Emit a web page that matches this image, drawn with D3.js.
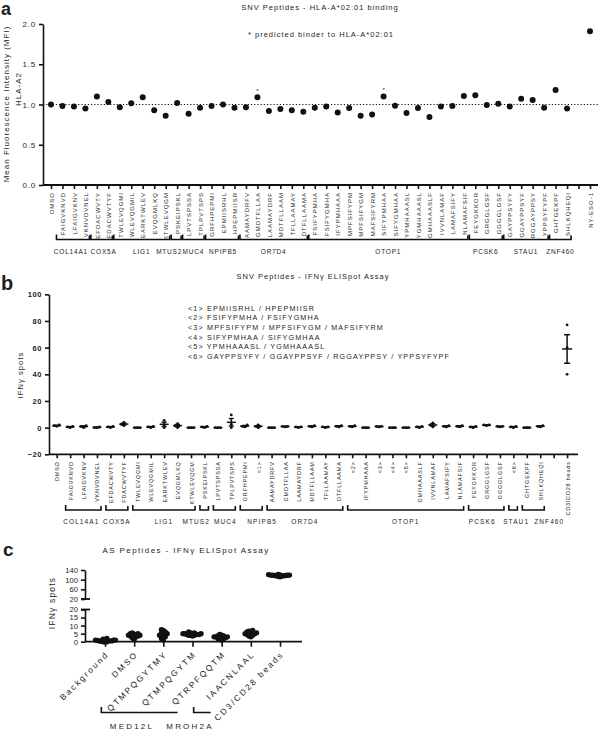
<!DOCTYPE html>
<html><head><meta charset="utf-8">
<script src="https://cdn.jsdelivr.net/npm/d3@7/dist/d3.min.js"></script>
<style>
body{margin:0;background:#fff}
text{font-family:"Liberation Sans",Arial,sans-serif;fill:#1e1e1e}
</style>
</head><body>
<svg id="chart" width="600" height="729"></svg>
<script>
// ---------------- DATA ----------------
// Panel a: HLA-A*02:01 binding (MFI), "" = empty slot on axis
const aCategories = ["DMSO","FAIGVKNVD","LFAIGVKNV","VKNVDVNEL","EFDACWVTY","FDACWVTYF","TWLEVQGMI","WLEVQGMIL","EARKTWLEV","EVQGMLKQ","KTWLEVQGM","PSKEIPSKL","LPVTSPSSA","TPLPVTSPS","GRFHPEPMI","EPMIISRHL","HPEPMIISR","AAMAYDRFV","GMDTFLLAA","LAAMAYDRF","MDTFLLAAM","TFLLAAMAY","DTFLLAAMA","FSIFYPMHA","FSIFYGMHA","IFYPMHAAA","MPFSIFYPM","MPFSIFYGM","MAFSIFYRM","SIFYPMHAA","SIFYGMHAA","YPMHAAASL","YGMHAAASL","GMHAAASLF","IVVNLAMAF","LAMAFSIFY","NLAMAFSIF","FEYGKKOR","GRGGLGSF","GGGGLGSF","GAYPPSYFY","GGAYPPSYF","RGGAYPPSY","YPPSYFYPF","GHTGEKPF","SHLKQHEQI","","NY-ESO-1"];
const aValues = [1.00,0.98,0.975,0.95,1.10,1.03,0.965,1.015,1.09,0.93,0.86,1.02,0.885,0.96,0.98,1.00,0.96,0.965,1.09,0.92,0.945,0.93,0.91,0.96,0.975,0.90,0.955,0.86,0.875,1.10,0.985,0.895,0.955,0.845,0.975,0.98,1.105,1.115,0.995,1.01,0.975,1.07,1.055,0.96,1.18,0.95,null,1.91];
const aPredictedBinders = ["GMDTFLLAA","SIFYPMHAA"];
const aYTicks = [0,0.5,1.0,1.5,2.0];
const aRefLine = 1.0;
const aGeneNames = ["COL14A1","COX5A","LIG1","MTUS2","MUC4","NPIPB5","OR7D4","OTOP1","PCSK6","STAU1","ZNF460"];
const aGeneFirst = ["FAIGVKNVD","EFDACWVTY","TWLEVQGMI","PSKEIPSKL","LPVTSPSSA","GRFHPEPMI","AAMAYDRFV","FSIFYPMHA","FEYGKKOR","GAYPPSYFY","GHTGEKPF"];
const aGeneLast  = ["VKNVDVNEL","FDACWVTYF","KTWLEVQGM","PSKEIPSKL","TPLPVTSPS","HPEPMIISR","DTFLLAAMA","NLAMAFSIF","GGGGLGSF","YPPSYFYPF","SHLKQHEQI"];

// Panel b: IFNγ ELISpot (spots), three replicates per peptide
const bCategories = ["DMSO","FAIGVKNVD","LFAIGVKNV","VKNVDVNEL","EFDACWVTY","FDACWVTYF","TWLEVQGMI","WLEVQGMIL","EARKTWLEV","EVQGMLKQ","KTWLEVQGM","PSKEIPSKL","LPVTSPSSA","TPLPVTSPS","GRFHPEPMI","<1>","AAMAYDRFV","GMDTFLLAA","LAAMAYDRF","MDTFLLAAM","TFLLAAMAY","DTFLLAAMA","<2>","IFYPMHAAA","<3>","<4>","<5>","GMHAAASLF","IVVNLAMAF","LAMAFSIFY","NLAMAFSIF","FEYGKKOR","GRGGLGSF","GGGGLGSF","<6>","GHTGEKPF","SHLKQHEQI","","CD3/CD28 beads"];
const bReplicates = [[1,1.5,2],[0,0.5,1],[0,1,1.5],[0,0,0.5],[0,0.5,1],[1.5,2.5,4],[0,0,0],[0,0.5,1],[0,2,5.5],[0,1.5,3],[0,0,0],[0,0.5,1],[0,0,0],[0,2.5,9.5],[0.5,1,2],[0,1,2],[0,0,0],[0.5,1,1],[0,0.5,0.5],[0.5,1,1.5],[0,0.5,0.5],[0.5,1,1.5],[0.5,1,1.5],[0,0,0],[0.5,1,1],[0,0,0],[0,0,0],[0,0.5,1],[0.5,2,3.5],[0.5,1,1.5],[0.5,1,1.5],[0,0.5,1],[1.5,2,2],[0.5,1,1],[0,0.5,1],[0,0,0],[0.5,1,1.5],[],[40,60,77]];
const bYTicks = [-20,0,20,40,60,80,100];
const bLegend = ["<1> EPMIISRHL / HPEPMIISR","<2> FSIFYPMHA / FSIFYGMHA","<3> MPFSIFYPM / MPFSIFYGM / MAFSIFYRM","<4> SIFYPMHAA / SIFYGMHAA","<5> YPMHAAASL / YGMHAAASL","<6> GAYPPSYFY / GGAYPPSYF / RGGAYPPSY / YPPSYFYPF"];
const bGeneNames = ["COL14A1","COX5A","LIG1","MTUS2","MUC4","NPIPB5","OR7D4","OTOP1","PCSK6","STAU1","ZNF460"];
const bGeneFirst = ["FAIGVKNVD","EFDACWVTY","TWLEVQGMI","PSKEIPSKL","LPVTSPSSA","GRFHPEPMI","AAMAYDRFV","<2>","FEYGKKOR","<6>","GHTGEKPF"];
const bGeneLast  = ["VKNVDVNEL","FDACWVTYF","KTWLEVQGM","PSKEIPSKL","TPLPVTSPS","<1>","DTFLLAAMA","NLAMAFSIF","GGGGLGSF","<6>","SHLKQHEQI"];

// Panel c: AS peptides IFNγ ELISpot (spots)
const cCategories = ["Background","DMSO","QTMPQGYTMY","QTMPQGYTM","QTRPFQQTM","IAACNLAAL","CD3/CD28 beads"];
const cReplicates = [
  [0,0,0,0.3,0.5,0.5,0.8,1,1,1,1.2,1.5,2,0.5],
  [1.5,2.5,3,3.5,3.5,4,4,4,4.5,4.5,5,5,5.5,3],
  [1,2,2.5,3,3.5,4,4,4.5,5,5,5.5,6,7,7.5],
  [3.5,4,4,4.5,4.5,5,5,5,5.5,5.5,6,4.5,5,4],
  [1,1.5,2,2.5,2.5,3,3,3,3.5,3.5,4,4.5,2,3],
  [3,3.5,4,4.5,5,5,5,5.5,5.5,6,6,6.5,7,4.5],
  [112,114,115,116,117,117,118,118,119,120,121,122,116,119]
];
const cYTicksLow = [0,5,10,15,20];
const cYTicksHigh = [20,60,100,140];
const cGeneNames = ["MED12L","MROH2A"];
const cGeneFirst = ["QTMPQGYTMY","QTRPFQQTM"];
const cGeneLast  = ["QTMPQGYTM","QTRPFQQTM"];

// ---------------- HELPERS ----------------
const svg = d3.select("#chart");
const INK = "#111";
function label(x, y, txt, size, opts = {}) {
  return svg.append("text").attr("x", x).attr("y", y).text(txt)
    .style("font-size", size + "px")
    .style("letter-spacing", (opts.ls || 0) + "px")
    .style("font-weight", opts.bold ? "bold" : "normal")
    .attr("text-anchor", opts.anchor || "start");
}
function vlabel(x, y, txt, size, ls) {
  return svg.append("text").attr("transform", `translate(${x},${y}) rotate(-90)`)
    .attr("text-anchor", "middle").text(txt)
    .style("font-size", size + "px").style("letter-spacing", ls + "px");
}
function styleAxis(g, size, ls) {
  g.selectAll("path,line").attr("stroke", INK).attr("stroke-width", 1.6);
  g.selectAll("text").attr("font-family", null).attr("fill", null)
    .style("fill", "#1e1e1e")
    .style("font-size", size + "px").style("letter-spacing", ls + "px");
}
function swarm(vals, yOf, r, minD) {
  const placed = [];
  return vals.slice().sort((a, b) => a - b).map(v => {
    const y = yOf(v);
    let dx = 0;
    for (let k = 0; k < 80; k++) {
      const cand = k === 0 ? 0 : (k % 2 ? -1 : 1) * Math.ceil(k / 2) * minD * 0.5;
      if (placed.every(p => Math.hypot(p.dx - cand, p.y - y) >= minD)) { dx = cand; break; }
    }
    placed.push({ dx, y });
    return { v, dx, y };
  });
}
function brackets(names, firsts, lasts, xs, yLine, yText, padL, padR, size, ls, shifts) {
  names.forEach((n, i) => {
    const x0 = xs(firsts[i]) - padL, x1 = xs(lasts[i]) + padR;
    svg.append("path").attr("d", `M${x0},${yLine - 5}V${yLine}H${x1}V${yLine - 4}`)
      .attr("fill", "none").attr("stroke", INK).attr("stroke-width", 1.6);
    label((x0 + x1) / 2 + (shifts[i] || 0), yText, n, size, { ls, anchor: "middle" });
  });
}

// ---------------- PANEL A ----------------
label(1, 15, "a", 18, { bold: true });
label(320, 10, "SNV Peptides - HLA-A*02:01 binding", 7.5, { ls: 1, anchor: "middle" });
label(321, 37, "* predicted binder to HLA-A*02:01", 7.5, { ls: 1, anchor: "middle" });
vlabel(9, 104, "Mean Fluorescence Intensity (MFI)", 8, 1);
vlabel(21, 89, "HLA-A2", 8, 1);

const ax = d3.scalePoint().domain(aCategories).range([51, 590]);
const ay = d3.scaleLinear().domain([0, 2]).range([185, 24]);
const gay = svg.append("g").attr("transform", "translate(43,0)")
  .call(d3.axisLeft(ay).tickValues(aYTicks).tickFormat(d3.format(".1f")).tickSize(4).tickSizeOuter(0));
styleAxis(gay, 8, 0.8);
const gax = svg.append("g").attr("transform", "translate(0,185)")
  .call(d3.axisBottom(ax).tickSize(4).tickSizeOuter(0));
gax.select(".domain").remove();
styleAxis(gax, 6, 1);
gax.selectAll("text").attr("y", null).attr("dy", null)
  .attr("transform", "translate(2.2,7) rotate(-90)").attr("text-anchor", "end");
svg.append("line").attr("x1", 43).attr("x2", 598).attr("y1", 185).attr("y2", 185)
  .attr("stroke", INK).attr("stroke-width", 1.8);
svg.append("line").attr("x1", 43).attr("x2", 598).attr("y1", ay(aRefLine)).attr("y2", ay(aRefLine))
  .attr("stroke", INK).attr("stroke-width", 1).attr("stroke-dasharray", "1.2,2");
aCategories.forEach((c, i) => {
  if (aValues[i] == null) return;
  svg.append("circle").attr("cx", ax(c)).attr("cy", ay(aValues[i])).attr("r", 3).attr("fill", INK);
  if (aPredictedBinders.includes(c))
    label(ax(c), ay(aValues[i]) - 4.5, "*", 6, { anchor: "middle" });
});
brackets(aGeneNames, aGeneFirst, aGeneLast, ax, 239.5, 253.5, 6, 4, 6.5, 0.8,
  [-2, 2, 0, -7, 0, 1, 0, 0, 0, 0, 0]);

// ---------------- PANEL B ----------------
label(1, 290, "b", 20, { bold: true });
label(313, 279, "SNV Peptides - IFNγ ELISpot Assay", 7.5, { ls: 1, anchor: "middle" });
vlabel(23, 375, "IFNγ spots", 7.5, 1.1);
bLegend.forEach((t, i) => label(188, 310.5 + i * 9.7, t, 7.2, { ls: 1.15 }));

const bx = d3.scalePoint().domain(bCategories).range([56.7, 567.1]);
const by = d3.scaleLinear().domain([-20, 100]).range([454.3, 294.3]);
const gby = svg.append("g").attr("transform", "translate(49,0)")
  .call(d3.axisLeft(by).tickValues(bYTicks).tickSize(4).tickSizeOuter(0));
styleAxis(gby, 7.5, 0.6);
gby.selectAll("text").style("font-weight", "bold");
const gbx = svg.append("g").attr("transform", "translate(0,454.3)")
  .call(d3.axisBottom(bx).tickSize(4).tickSizeOuter(0));
gbx.select(".domain").remove();
styleAxis(gbx, 5.5, 0.8);
gbx.selectAll("text").attr("y", null).attr("dy", null)
  .attr("transform", "translate(2,7) rotate(-90)").attr("text-anchor", "end");
svg.append("line").attr("x1", 49).attr("x2", 578).attr("y1", 454.3).attr("y2", 454.3)
  .attr("stroke", INK).attr("stroke-width", 1.8);
bCategories.forEach((c, i) => {
  const vals = bReplicates[i];
  if (!vals.length) return;
  const x = bx(c);
  const m = d3.mean(vals), sem = d3.deviation(vals) / Math.sqrt(vals.length);
  const big = m > 20;
  const hw = big ? 5 : 4.5, cw = big ? 3 : 2.5;
  swarm(vals, by, 1.4, 2.6).forEach(d =>
    svg.append("circle").attr("cx", x + d.dx).attr("cy", d.y).attr("r", 1.4).attr("fill", INK));
  const g = svg.append("g").attr("stroke", INK).attr("stroke-width", 1.5);
  g.append("line").attr("x1", x - hw).attr("x2", x + hw).attr("y1", by(m)).attr("y2", by(m));
  g.append("line").attr("x1", x).attr("x2", x).attr("y1", by(m - sem)).attr("y2", by(m + sem));
  [m - sem, m + sem].forEach(v => g.append("line").attr("x1", x - cw).attr("x2", x + cw).attr("y1", by(v)).attr("y2", by(v)));
});
brackets(bGeneNames, bGeneFirst, bGeneLast, bx, 510, 523.5, 4.5, 4, 6.5, 1.1,
  [-2, 0, 0, -8, 1, 11, 0, 0, -4, 3, 16]);

// ---------------- PANEL C ----------------
label(3, 556, "c", 19, { bold: true });
label(186, 553, "AS Peptides - IFNγ ELISpot Assay", 8, { ls: 1.4, anchor: "middle" });
vlabel(55, 603, "IFNγ spots", 8.5, 1.2);

const cx = d3.scalePoint().domain(cCategories).range([105, 280]);
const cyLow = d3.scaleLinear().domain([0, 20]).range([641.7, 609.5]);
const cyHigh = d3.scaleLinear().domain([20, 140]).range([599, 570]);
const cy = v => v <= 20 ? cyLow(v) : cyHigh(v);
const gcl = svg.append("g").attr("transform", "translate(85,0)")
  .call(d3.axisLeft(cyLow).tickValues(cYTicksLow).tickSize(4).tickSizeOuter(0));
styleAxis(gcl, 7.6, 0);
const gch = svg.append("g").attr("transform", "translate(85,0)")
  .call(d3.axisLeft(cyHigh).tickValues(cYTicksHigh).tickSize(4).tickSizeOuter(0));
styleAxis(gch, 7.6, 0);
[cyLow(20), cyHigh(20)].forEach(y => svg.append("line").attr("x1", 81).attr("x2", 90)
  .attr("y1", y).attr("y2", y).attr("stroke", INK).attr("stroke-width", 1.8));
const gcx = svg.append("g").attr("transform", "translate(0,641.7)")
  .call(d3.axisBottom(cx).tickSize(5).tickSizeOuter(0));
gcx.select(".domain").remove();
styleAxis(gcx, 8.3, 2.1);
gcx.selectAll("text").attr("y", null).attr("dy", null)
  .attr("transform", "translate(4,13) rotate(-45)").attr("text-anchor", "end");
svg.append("line").attr("x1", 85).attr("x2", 302).attr("y1", 641.7).attr("y2", 641.7)
  .attr("stroke", INK).attr("stroke-width", 1.8);
cCategories.forEach((c, i) => {
  const x = cx(c);
  swarm(cReplicates[i], cy, 2.7, 1.9).forEach(d =>
    svg.append("circle").attr("cx", x + d.dx).attr("cy", d.y).attr("r", 2.7).attr("fill", INK));
});
// gene brackets under slanted labels (offsets follow the 45° label slant)
const cPad = [[62, -15], [28, -11]];
cGeneNames.forEach((n, i) => {
  const x0 = cx(cGeneFirst[i]) - cPad[i][0], x1 = cx(cGeneLast[i]) + cPad[i][1];
  svg.append("path").attr("d", `M${x0},707V712.5H${x1}`)
    .attr("fill", "none").attr("stroke", INK).attr("stroke-width", 1.6);
});
label(132, 728.5, "MED12L", 8, { ls: 2.2, anchor: "middle" });
label(190, 728.5, "MROH2A", 8, { ls: 2.2, anchor: "middle" });
</script>
</body></html>
